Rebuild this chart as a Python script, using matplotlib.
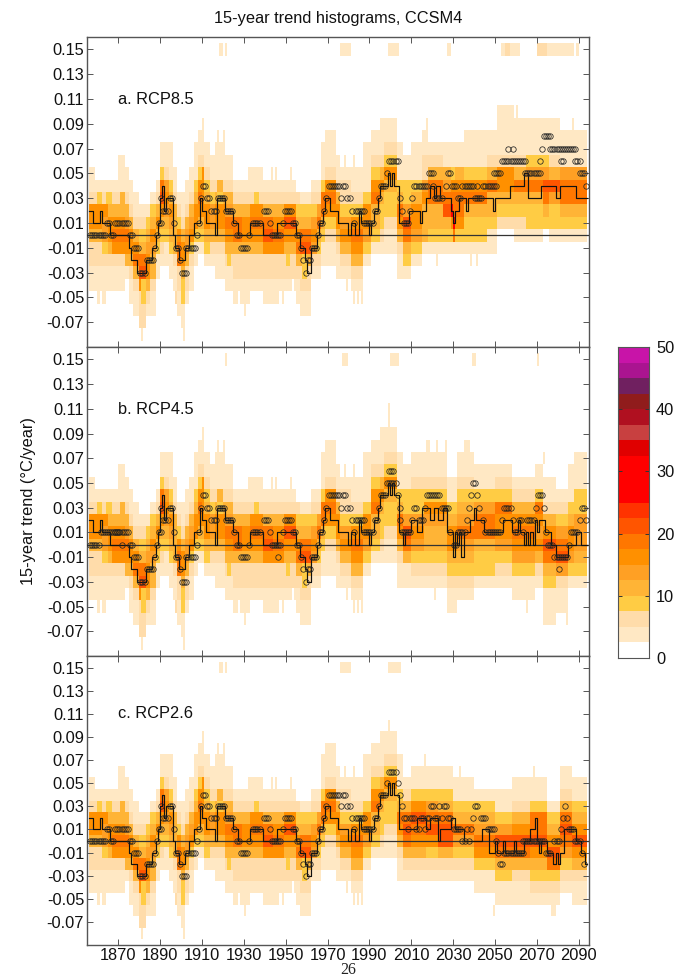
import numpy as np
import matplotlib
matplotlib.use("Agg")
import matplotlib.pyplot as plt
from matplotlib.colors import ListedColormap, BoundaryNorm

plt.rcParams['font.family'] = ['Liberation Sans', 'DejaVu Sans']

TITLE = "15-year trend histograms, CCSM4"
YLABEL = "15-year trend (°C/year)"
PANEL_NAMES = ["a. RCP8.5", "b. RCP4.5", "c. RCP2.6"]
Y_TICKS = [0.15, 0.13, 0.11, 0.09, 0.07, 0.05, 0.03, 0.01, -0.01, -0.03, -0.05, -0.07]
X_TICKS = list(range(1870, 2091, 20))
BAR_TICKS = [0, 10, 20, 30, 40, 50]
BAR_EDGES = list(np.arange(0, 50.1, 2.5))
BAR_COLOURS = ['#ffffff', '#ffe8c4', '#ffdcaa', '#ffcc44', '#ffb436', '#ffa024', '#ff9000', '#ff7700',
               '#ff5500', '#ff3300', '#ff0000', '#ff0000', '#ff0000', '#e00000', '#c84040', '#b01020',
               '#901c1c', '#702060', '#aa1490', '#c814a8']

# Histogram columns: (first year, lowest bin in 0.01 units, colour-band digit per bin going upward)
hist_columns = [
 (1856,-4,"1122577211"),(1859,-4,"112257721"),(1862,-4,"112366721"),(1865,-4,"112577521"),
 (1867,-4,"112787521"),(1870,-4,"11278752111"),(1873,-3,"147864211"),(1875,-5,"1125775211"),
 (1877,-6,"1125875211"),(1880,-7,"2227985321"),(1883,-6,"125776431"),(1885,-6,"1124567431"),
 (1888,-3,"11357521"),(1890,-2,"1235798311"),(1892,-2,"1134676211"),(1894,-3,"11346743111"),
 (1896,-4,"1125554211"),(1898,-6,"1122887321"),(1900,-7,"11224775211"),(1902,-5,"1225664211"),
 (1904,-4,"1123765211"),(1906,-2,"1137743111"),(1908,-1,"1357873211"),(1911,-2,"1357753211"),
 (1914,-2,"124663211"),(1916,-3,"11257742111"),(1921,-4,"11257864211"),(1925,-5,"1122588521"),
 (1929,-5,"1122477521"),(1933,-4,"1225787211"),(1939,-5,"1122798521"),(1944,-5,"1122787521"),
 (1949,-4,"122579721"),(1955,-5,"112587532"),(1957,-6,"1122598531"),(1962,-3,"12676321"),
 (1965,-3,"12358621"),(1967,-2,"1135883111"),(1969,-2,"11237872111"),(1974,-3,"1125774211"),
 (1976,-3,"124763221"),(1981,-4,"1247873211"),(1987,-2,"1367731111"),(1991,-1,"1345873211"),
 (1995,-1,"12335742111"),(1997,-1,"11233573211"),(2003,-3,"11257853111"),
]
future_a = [
 (2006,-3,"1358963311"),(2010,-2,"1367743111"),(2015,-1,"1454762211"),(2018,-1,"134588521"),
 (2025,-1,"135986411"),(2029,-1,"137A87311"),(2031,-1,"137887411"),(2035,-1,"1335873111"),
 (2046,-1,"1134584211"),(2051,1,"2347721111"),(2059,0,"1235852111"),(2065,0,"1335863111"),
 (2073,1,"358963111"),(2076,0,"1336952111"),(2081,0,"135886111"),
]
future_b = [
 (2006,-3,"1148963311"),(2010,-3,"12367633211"),(2016,-3,"12355673211"),(2027,-5,"11235775311"),
 (2032,-4,"123568643211"),(2040,-3,"1335886311"),(2050,-3,"1236778321"),(2058,-4,"1136787521"),
 (2069,-3,"1257678311"),(2073,-6,"111358974211"),(2079,-5,"1126986321"),(2085,-3,"1367743111"),
 (2088,-3,"13566633111"),
]
future_c = [
 (2006,-3,"124898421"),(2010,-3,"1247897311"),(2017,-3,"1237986311"),(2023,-3,"1249985311"),
 (2030,-3,"123685311"),(2040,-4,"113786431"),(2050,-5,"1135896311"),(2058,-5,"11248974211"),
 (2067,-5,"12357988311"),(2075,-5,"123897431"),(2081,-4,"12368984211"),(2087,-5,"11247975311"),
]
# Single-year departures from the columns above: (year, lowest bin, digits)
streaks_hist = [
 (1860,-5,"1"),(1862,-5,"1"),(1863,-5,"1"),(1860,3,"3"),(1861,3,"3"),(1864,3,"3"),(1865,3,"3"),(1866,3,"3"),
 (1871,3,"4"),(1872,3,"4"),(1879,-6,"1"),(1881,-8,"1"),(1881,-5,"33"),(1882,-5,"33"),(1885,3,"1"),(1886,3,"1"),
 (1891,3,"9"),(1897,-5,"2"),(1900,-5,"33"),(1901,-5,"33"),(1901,-8,"1"),(1909,8,"1"),(1910,3,"777"),(1910,8,"11"),
 (1917,8,"1"),(1917,3,"34"),(1918,3,"34"),(1919,3,"34"),(1920,8,"1"),(1930,-6,"1"),(1927,-5,"0"),(1932,5,"1"),
 (1938,-4,"1"),(1943,5,"1"),(1945,5,"1"),(1947,-5,"0"),(1952,5,"1"),(1953,-4,"0"),(1960,-6,"1"),(1961,-6,"1"),
 (1978,6,"1"),(1982,6,"1"),(1985,-4,"1"),(1986,-4,"1"),(1979,-4,"1"),(1982,-5,"1"),(1984,-5,"1"),(1986,-5,"1"),
 (1922,-2,"3"),(1923,-2,"3"),(1935,3,"3"),(1936,3,"3"),(1950,-2,"3"),(1951,-2,"3"),(1958,-3,"33"),(1959,-3,"33"),
]
streaks_a = [(2017,8,"11"),(2024,7,"1"),(2027,7,"1"),(2040,6,"1"),(2030,0,"8A8"),(2056,9,"1"),(2060,10,"1"),
             (2060,9,"1"),(2063,9,"1"),(2071,9,"1"),(2075,9,"1"),(2087,9,"1"),(2058,2,"3"),(2054,3,"5"),
             (2022,-2,"1"),(2038,-2,"1"),(2041,-2,"1")]
streaks_b = [(1999,10,"11"),(2017,8,"1"),(2018,8,"1"),(2022,8,"1"),(2026,8,"1"),(2035,8,"1"),(2036,8,"1"),
             (2037,8,"1"),(2065,-5,"1"),(2073,7,"1"),(2084,-6,"1"),(2030,-5,"1"),(2021,-4,"1")]
streaks_c = [(1999,10,"1"),(2014,6,"1"),(2016,7,"1"),(2033,6,"1"),(2068,6,"1"),(2084,6,"1"),(2049,-6,"1"),
             (2078,-6,"1"),(2077,-6,"1"),(2055,4,"1"),(2056,-6,"0")]
# Overflow row at 0.15: (first year, last year, band)
overflow_a = [(1918,1919,1),(1921,1921,1),(1976,1980,1),(1999,2003,1),(2027,2028,1),(2053,2054,1),
              (2055,2056,2),(2057,2061,1),(2070,2074,2),(2075,2087,1),(2089,2089,1)]
overflow_b = [(1921,1921,1),(1977,1979,1),(2000,2003,1),(2039,2040,1),(2070,2070,1)]
overflow_c = [(1918,1919,1),(1921,1921,1),(1976,1980,1),(1999,2004,1)]

# Ensemble mean trend: (first year, bin in 0.01 units)
mean_hist = [(1856,2),(1858,1),(1861,2),(1862,1),(1866,0),(1875,-1),(1876,-2),(1879,-3),(1883,-2),
 (1886,-1),(1888,0),(1889,1),(1890,3),(1891,4),(1892,2),(1893,3),(1896,0),(1897,-1),(1899,-2),
 (1902,-1),(1904,0),(1906,1),(1909,3),(1910,2),(1912,1),(1916,0),(1917,3),(1921,2),(1925,1),
 (1927,0),(1933,1),(1939,0),(1946,1),(1955,0),(1957,-1),(1959,-2),(1960,-3),(1962,-1),(1965,0),
 (1966,1),(1968,2),(1969,3),(1971,2),(1975,1),(1980,0),(1981,1),(1983,0),(1985,2),(1986,1),
 (1990,0),(1991,1),(1992,2),(1994,3),(1995,4),(1999,5),(2000,4),(2001,5),(2002,4),(2004,1)]
mean_a = [(2006,1),(2009,2),(2014,1),(2015,2),(2017,3),(2019,4),(2021,3),(2022,4),(2024,3),
 (2029,2),(2030,1),(2031,2),(2033,3),(2036,2),(2037,3),(2049,2),(2050,3),(2057,4),(2064,5),
 (2066,3),(2072,4),(2079,3),(2081,4),(2089,3)]
mean_b = [(2006,0),(2007,1),(2010,2),(2013,1),(2015,3),(2019,2),(2021,3),(2023,2),(2025,3),
 (2027,1),(2030,-1),(2031,1),(2032,0),(2033,1),(2034,-1),(2035,1),(2038,2),(2040,3),(2041,2),
 (2045,1),(2054,2),(2058,1),(2061,2),(2062,1),(2064,0),(2065,1),(2066,0),(2067,1),(2068,0),
 (2069,2),(2070,1),(2071,2),(2074,1),(2077,0),(2079,-1),(2085,0),(2089,1),(2091,0)]
mean_c = [(2006,1),(2013,2),(2017,1),(2019,2),(2023,0),(2024,1),(2029,2),(2031,1),(2035,0),
 (2044,1),(2047,-1),(2050,0),(2051,-1),(2054,0),(2055,-1),(2059,0),(2060,-1),(2064,0),(2067,1),
 (2069,2),(2070,0),(2071,-1),(2072,0),(2075,-1),(2078,-2),(2079,-1),(2080,-2),(2081,-1),
 (2083,1),(2089,0),(2091,-1),(2093,-2)]

# Most common bin (circles): (first year, last year, bin)
modes_hist = [(1868,1874,1),(1875,1876,0),(1877,1879,-1),(1880,1882,-3),(1883,1886,-2),(1887,1887,-1),
 (1888,1888,0),(1889,1890,1),(1890,1890,3),(1891,1893,2),(1894,1895,3),(1896,1896,1),(1897,1898,-1),
 (1899,1899,-2),(1900,1902,-3),(1902,1906,-1),(1907,1907,0),(1908,1908,1),(1909,1909,3),(1910,1911,4),
 (1912,1913,3),(1914,1916,2),(1917,1920,3),(1921,1924,2),(1925,1925,1),(1926,1927,0),(1928,1931,-1),
 (1932,1932,0),(1934,1937,1),(1939,1941,2),(1942,1942,1),(1943,1947,0),(1948,1948,1),(1949,1952,2),
 (1953,1954,1),(1955,1956,0),(1957,1957,-1),(1958,1958,-2),(1959,1959,-3),(1960,1961,-2),(1962,1964,-1),
 (1965,1965,0),(1966,1967,1),(1968,1968,2),(1969,1969,3),(1970,1975,4),(1976,1976,3),(1977,1978,4),
 (1979,1980,3),(1981,1981,2),(1982,1982,1),(1983,1987,2),(1987,1991,1),(1992,1993,2),(1994,1994,3),
 (1995,1997,4)]
modes_early_ac = [(1856,1863,0),(1864,1865,1),(1866,1867,0)]
modes_early_b = [(1856,1860,0),(1861,1870,1),(1871,1871,0),(1946,1946,-1)]
modes_a = [(1998,1998,5),(1999,2003,6),(2004,2004,3),(2005,2005,2),(2006,2008,1),(2009,2009,2),(2010,2010,3),
 (2011,2017,4),(2018,2020,5),(2020,2020,4),(2021,2024,3),(2026,2026,4),(2027,2028,5),(2029,2031,4),
 (2032,2033,3),(2034,2039,4),(2040,2043,3),(2041,2041,4),(2044,2050,4),(2049,2052,5),(2053,2055,6),
 (2056,2056,7),(2058,2058,7),(2056,2064,6),(2064,2071,5),(2071,2071,6),(2072,2072,7),(2073,2076,8),
 (2076,2081,7),(2081,2082,6),(2082,2088,7),(2088,2090,6),(2090,2092,5),(2093,2093,4)]
modes_b = [(1998,2002,5),(1999,2001,6),(2003,2003,4),(2004,2004,3),(2005,2009,1),(2004,2004,2),(2010,2010,2),
 (2011,2012,3),(2013,2015,2),(2016,2016,3),(2017,2023,4),(2024,2027,3),(2028,2028,1),(2030,2031,0),
 (2032,2035,1),(2036,2036,2),(2037,2037,3),(2038,2038,4),(2039,2040,5),(2041,2041,4),(2042,2042,3),
 (2044,2044,2),(2045,2052,1),(2053,2053,2),(2054,2057,3),(2058,2058,2),(2059,2060,1),(2061,2062,2),
 (2063,2063,1),(2065,2068,2),(2069,2069,3),(2070,2072,4),(2073,2073,3),(2074,2074,1),(2075,2077,0),
 (2078,2084,-1),(2080,2080,-2),(2085,2085,0),(2086,2089,1),(2090,2090,2),(2091,2092,3),(2093,2093,2)]
modes_c = [(1998,1998,5),(2003,2003,5),(1999,2002,6),(2004,2004,4),(2005,2005,3),(2006,2007,2),(2008,2008,1),
 (2009,2011,2),(2012,2013,1),(2014,2015,2),(2016,2016,1),(2017,2018,2),(2019,2020,3),(2021,2022,2),
 (2023,2023,3),(2024,2024,2),(2025,2026,3),(2027,2028,2),(2030,2033,1),(2034,2035,0),(2036,2036,1),
 (2037,2037,0),(2038,2038,1),(2039,2039,2),(2040,2041,3),(2043,2045,2),(2046,2049,1),(2050,2050,0),
 (2051,2051,-1),(2052,2053,-2),(2054,2063,-1),(2063,2073,0),(2074,2076,-1),(2078,2080,0),(2081,2081,1),
 (2082,2082,2),(2083,2083,3),(2084,2084,2),(2085,2087,1),(2088,2090,0),(2091,2091,-1),(2092,2092,-2)]

YEAR0, YEAR1 = 1856, 2094
K0, K1 = -9, 15
years = np.arange(YEAR0, YEAR1 + 1)
edges_y = (np.arange(K0, K1 + 2) - 0.5) / 100
# Read-off digit -> colour band actually used (blur of the reference made orange look wider)
BAND_OF_DIGIT = {'0': 0, '1': 1, '2': 2, '3': 3, '4': 4, '5': 4, '6': 5, '7': 6, '8': 7, '9': 8, 'A': 10}


def digit_to_count(ch):
    return BAND_OF_DIGIT[ch] * 2.5 + 1.25


def build_grid(columns, overflow, streaks):
    grid = np.zeros((K1 - K0 + 1, YEAR1 - YEAR0))
    for i, (start, low, digits) in enumerate(columns):
        stop = columns[i + 1][0] if i + 1 < len(columns) else YEAR1
        for j, ch in enumerate(digits):
            grid[low + j - K0, start - YEAR0:stop - YEAR0] = digit_to_count(ch)
    for year, low, digits in streaks:
        for j, ch in enumerate(digits):
            grid[low + j - K0, year - YEAR0] = digit_to_count(ch)
    for a, b, lev in overflow:
        grid[15 - K0, a - YEAR0:b + 1 - YEAR0] = digit_to_count(str(lev))
    return grid


def expand(runs):
    vals = np.zeros(YEAR1 - YEAR0)
    for i, (start, v) in enumerate(runs):
        stop = runs[i + 1][0] if i + 1 < len(runs) else YEAR1
        vals[start - YEAR0:stop - YEAR0] = v
    return vals


def mode_points(runs):
    xs, ys = [], []
    for a, b, k in runs:
        for y in range(a, b + 1):
            xs.append(y + 0.5)
            ys.append(k / 100)
    return xs, ys


W, H = 700, 975
cmap = ListedColormap(BAR_COLOURS)
norm = BoundaryNorm(BAR_EDGES, cmap.N)
FRAME = '#555555'
FS = 11.8

fig = plt.figure(figsize=(W / 100, H / 100), dpi=100)


def add_axes_px(x0, y0, x1, y1):
    return fig.add_axes([x0 / W, 1 - y1 / H, (x1 - x0) / W, (y1 - y0) / H])


panels = [
    (37, 347, future_a, overflow_a, mean_a, modes_early_ac + modes_a, streaks_a, 100),
    (347, 656, future_b, overflow_b, mean_b, modes_early_b + modes_b, streaks_b, 409),
    (656, 945, future_c, overflow_c, mean_c, modes_early_ac + modes_c, streaks_c, 714),
]
for idx, (top, bottom, fut, over, mean_fut, modes, streaks, label_y) in enumerate(panels):
    ax = add_axes_px(87, top, 589, bottom)
    grid = build_grid(hist_columns + fut, over, streaks_hist + streaks)
    ax.pcolormesh(years, edges_y, grid, cmap=cmap, norm=norm, shading='flat', rasterized=True)
    ax.axhline(0, color='#333333', lw=0.9, zorder=3)
    ms = expand(mean_hist + mean_fut) / 100
    ax.step(np.r_[years[:-1], years[-1]], np.r_[ms, ms[-1]], where='post', color='#111111', lw=0.85, zorder=4)
    xs, ys = mode_points(modes_hist + modes)
    ax.plot(xs, ys, ls='none', marker='o', ms=3.9, mfc='none', mec='#222222', mew=0.55, zorder=5)
    ax.set_xlim(1855, 2095)
    ax.set_ylim(-0.09, 0.16)
    ax.set_yticks(Y_TICKS)
    ax.set_yticklabels([f"{v:.2f}" for v in Y_TICKS], fontsize=FS, color='#111111')
    ax.set_xticks(X_TICKS)
    if idx == 2:
        ax.set_xticklabels([str(v) for v in X_TICKS], fontsize=FS, color='#111111')
    else:
        ax.set_xticklabels([])
    ax.tick_params(axis='both', direction='in', length=4.5, width=0.7, color=FRAME,
                   top=True, right=True, pad=2)
    for s in ax.spines.values():
        s.set_color(FRAME)
        s.set_linewidth(1.0)
    fig.text(118 / W, 1 - label_y / H, PANEL_NAMES[idx], fontsize=FS, color='#111111', va='center', ha='left')

fig.text(338 / W, 1 - 18 / H, TITLE, fontsize=FS, ha='center', va='center', color='#111111')
fig.text(29 / W, 1 - 501 / H, YLABEL, fontsize=FS, rotation=90, ha='center', va='center', color='#111111')

cax = add_axes_px(618, 347, 649, 658)
cvals = (np.array(BAR_EDGES[:-1]) + 1.25).reshape(-1, 1)
cax.pcolormesh([0, 1], BAR_EDGES, cvals, cmap=cmap, norm=norm, shading='flat')
cax.set_xticks([])
cax.yaxis.tick_right()
cax.set_yticks(BAR_TICKS)
cax.set_yticklabels([str(v) for v in BAR_TICKS], fontsize=FS, color='#111111')
cax.tick_params(axis='y', direction='in', length=3, width=0.7, color='#333333', left=True, right=True, pad=5)
for s in cax.spines.values():
    s.set_color(FRAME)

fig.text(348 / W, 1 - 974 / H, "26", fontsize=11.5, family='Liberation Serif', ha='center', va='baseline', color='#222222')

fig.savefig("out.png", dpi=100)
